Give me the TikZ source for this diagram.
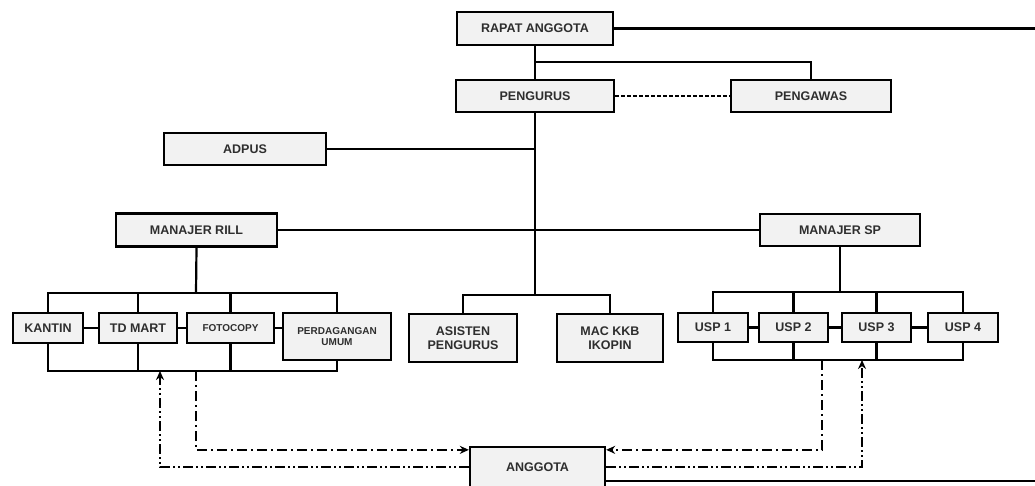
\documentclass[tikz,border=0pt]{standalone}
\usepackage{fontspec}
\setmainfont{Liberation Sans}
\usetikzlibrary{arrows.meta,calc}
\definecolor{txt}{HTML}{2e2e2e}
\definecolor{boxfill}{HTML}{F2F2F2}
\begin{document}
\begin{tikzpicture}[x=1pt,y=-1pt,
  box/.style={draw=black,line width=2.3pt,fill=boxfill,inner sep=0pt,align=center,text=txt,
    font=\bfseries\fontsize{12.5}{13.5}\selectfont},
  smallbox/.style={box,font=\bfseries\fontsize{10}{11.5}\selectfont},
  ln/.style={line width=2.2pt,black},
  dsh/.style={line width=2.2pt,dash pattern=on 4pt off 2pt},
  ddone/.style={line width=1.8pt,dash pattern=on 10pt off 4pt on 2pt off 4pt},
  ddtwo/.style={line width=1.8pt,dash pattern=on 10pt off 3pt on 2pt off 3pt on 2pt off 3pt},
  arr/.style={-{Stealth[length=9pt,width=8pt]}}]
\useasboundingbox (0,0) rectangle (1035,486);
\fill[white] (0,0) rectangle (1035,486);
\clip (0,0) rectangle (1035,486);

% top
\node[box,minimum width=156pt,minimum height=33pt] (rapat) at (535,28.5) {RAPAT ANGGOTA};
\node[box,minimum width=158pt,minimum height=32pt] (pengurus) at (535,96) {PENGURUS};
\node[box,minimum width=160pt,minimum height=32pt] (pengawas) at (811,96) {PENGAWAS};
\node[box,minimum width=162pt,minimum height=32pt] (adpus) at (245,149) {ADPUS};
\node[box,minimum width=161pt,minimum height=33pt] (rill) at (196.5,230) {MANAJER RILL};
\node[box,minimum width=160pt,minimum height=32pt] (sp) at (840,230) {MANAJER SP};
\node[box,minimum width=108pt,minimum height=48pt] (asisten) at (463,338) {ASISTEN\\PENGURUS};
\node[box,minimum width=106pt,minimum height=48pt] (mac) at (610,338) {MAC KKB\\IKOPIN};

% left group
\node[box,minimum width=70pt,minimum height=30pt] (kantin) at (48,328) {KANTIN};
\node[box,minimum width=78pt,minimum height=30pt] (tdmart) at (138,328) {TD MART};
\node[smallbox,minimum width=87pt,minimum height=30pt] (foto) at (230.5,328) {FOTOCOPY};
\node[smallbox,minimum width=108pt,minimum height=47pt] (perd) at (337,336.5) {PERDAGANGAN\\UMUM};

% right group
\node[box,minimum width=70pt,minimum height=29pt] (usp1) at (713,327.5) {USP 1};
\node[box,minimum width=69pt,minimum height=29pt] (usp2) at (793.5,327.5) {USP 2};
\node[box,minimum width=69pt,minimum height=29pt] (usp3) at (876.5,327.5) {USP 3};
\node[box,minimum width=70pt,minimum height=29pt] (usp4) at (963,327.5) {USP 4};

% anggota
\node[box,minimum width=135pt,minimum height=40pt] (anggota) at (537.5,467) {ANGGOTA};

% coordinates
\coordinate (redge) at (1040,28.5);
\coordinate (bedge) at (1040,481);
\coordinate (j1) at (535,62);
\coordinate (cbot) at (535,295);
\coordinate (ltop) at (196,293);
\coordinate (lbot) at (196,371);
\coordinate (lup) at (160,371);
\coordinate (rtop) at (843,292);
\coordinate (rbot) at (822,360);
\coordinate (rup) at (862,360);
\coordinate (aul) at ($(anggota.north west)+(0,4)$);
\coordinate (aur) at ($(anggota.north east)+(0,4)$);

% solid connectors
\draw[ln] (rapat.east) -- (redge);
\draw[ln] (rapat.south) -- (pengurus.north);
\draw[ln] (j1) -| (pengawas.north);
\draw[dsh] (pengurus.east) -- (pengawas.west);
\draw[ln] (pengurus.south) -- (cbot);
\draw[ln] (adpus.east) -- (adpus.east -| cbot);
\draw[ln] (rill.east) -- (sp.west);
\draw[ln] (asisten.north) |- (cbot) -| (mac.north);

% left buses
\draw[ln] (rill.south) -- (ltop);
\draw[ln] (kantin.north) |- (ltop) -| (perd.north);
\draw[ln] (tdmart.north) -- (tdmart.north |- ltop);
\draw[ln] (foto.north) -- (foto.north |- ltop);
\draw[ln] (kantin.south) |- (lbot) -| (perd.south);
\draw[ln] (tdmart.south) -- (tdmart.south |- lbot);
\draw[ln] (foto.south) -- (foto.south |- lbot);
\draw[ln] (kantin.east) -- (tdmart.west);
\draw[ln] (tdmart.east) -- (foto.west);
\draw[ln] (foto.east) -- (foto.east -| perd.west);

% right buses
\draw[ln] (sp.south) -- (sp.south |- rtop);
\draw[ln] (usp1.north) |- (rtop) -| (usp4.north);
\draw[ln] (usp2.north) -- (usp2.north |- rtop);
\draw[ln] (usp3.north) -- (usp3.north |- rtop);
\draw[ln] (usp1.south) |- (rbot) -| (usp4.south);
\draw[ln] (usp2.south) -- (usp2.south |- rbot);
\draw[ln] (usp3.south) -- (usp3.south |- rbot);
\draw[ln] (usp1.east) -- (usp2.west);
\draw[ln] (usp2.east) -- (usp3.west);
\draw[ln] (usp3.east) -- (usp4.west);

% anggota links
\draw[ln] (anggota.east |- bedge) -- (bedge);
\draw[ddone,arr] (lbot) |- (aul);
\draw[ddtwo,arr] (anggota.west) -| (lup);
\draw[ddone,arr] (rbot) |- (aur);
\draw[ddtwo,arr] (anggota.east) -| (rup);
\end{tikzpicture}
\end{document}
